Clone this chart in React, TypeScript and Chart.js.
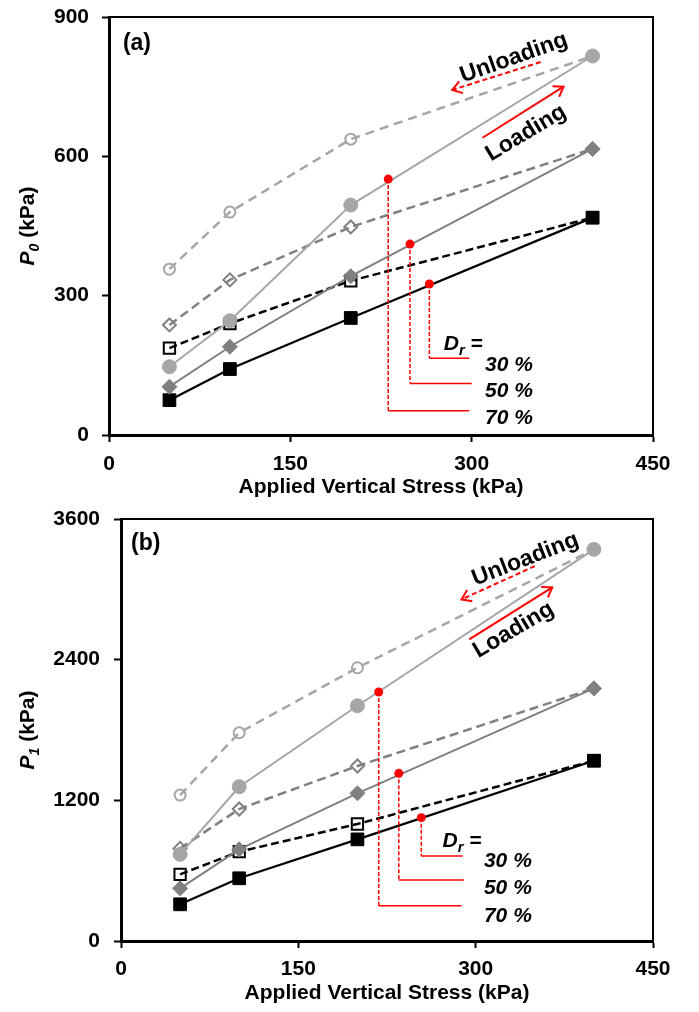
import React, { useEffect, useRef } from 'react';
import { Chart, registerables } from 'chart.js';

Chart.register(...registerables);

const FONT = "'Liberation Sans', Arial, Helvetica, sans-serif";

// ---------- shared ----------
const appliedStress = [50, 100, 200, 400];
const stressTicks = [0, 150, 300, 450];
const densityLabels = ['30 %', '50 %', '70 %'];

// ---------- panel (a): P0 ----------
const p0Ticks = [0, 300, 600, 900];
const p0Loading30 = [75, 142, 252, 468];
const p0Unloading30 = [187, 240, 332, 468];
const p0Loading50 = [104, 190, 342, 616];
const p0Unloading50 = [237, 334, 448, 616];
const p0Loading70 = [147, 246, 495, 816];
const p0Unloading70 = [357, 480, 637, 816];
// red markers (30 %, 50 %, 70 %) and their leader lines
const p0MarkStress = [265, 249, 231];
const p0MarkValue = [325, 411, 551];
const p0LeaderValue = [165, 111, 52];
const p0LeaderEndStress = [298, 300, 298];

// ---------- panel (b): P1 ----------
const p1Ticks = [0, 1200, 2400, 3600];
const p1Loading30 = [313, 535, 867, 1538];
const p1Unloading30 = [569, 762, 998, 1538];
const p1Loading50 = [449, 782, 1260, 2155];
const p1Unloading50 = [790, 1126, 1493, 2155];
const p1Loading70 = [739, 1316, 2007, 3341];
const p1Unloading70 = [1245, 1777, 2331, 3341];
const p1MarkStress = [254, 235, 218];
const p1MarkValue = [1052, 1430, 2124];
const p1LeaderValue = [725, 520, 301];
const p1LeaderEndStress = [289, 290, 288];

// ---------- annotation placement (data coordinates) ----------
const annotA = {
  panel: '(a)', sub: '0', yMax: 900, padTop: 17, axisWidth: 109, tickPad: 13, labelPad: 10,
  panelPos: [11.5, 842],
  unloadText: [335, 812, 19.5], loadText: [345, 650, 31],
  unloadArrow: [357, 803, 284, 743], loadArrow: [309, 640, 376, 750],
  drPos: [277, 200], pctX: 311, pctY: [155, 98, 39],
};
const annotB = {
  panel: '(b)', sub: '1', yMax: 3600, padTop: 13, axisWidth: 121, tickPad: 14, labelPad: 9,
  panelPos: [8.5, 3386],
  unloadText: [342, 3255, 21.2], loadText: [332, 2652, 30.5],
  unloadArrow: [350, 3198, 288, 2914], loadArrow: [294.6, 2573, 364.8, 3017],
  drPos: [272, 866], pctX: 307, pctY: [695, 469, 230],
};

const pts = (xs: number[], ys: number[]) => xs.map((x, i) => ({ x, y: ys[i] }));

function buildDatasets(
  l30: number[], u30: number[], l50: number[], u50: number[], l70: number[], u70: number[],
  mx: number[], my: number[], ly: number[], lx: number[]
) {
  const red = '#FF0000';
  const ds: any[] = [];
  ds.push({
    data: pts(mx, my), showLine: false, pointRadius: 4.5, pointStyle: 'circle',
    pointBackgroundColor: red, pointBorderColor: red, pointBorderWidth: 0,
  });
  mx.forEach((x, i) => {
    ds.push({
      data: [{ x, y: my[i] }, { x, y: ly[i] }], showLine: true, pointRadius: 0,
      borderColor: red, borderWidth: 1.5, borderDash: [4, 2],
    });
    ds.push({
      data: [{ x, y: ly[i] }, { x: lx[i], y: ly[i] }], showLine: true, pointRadius: 0,
      borderColor: red, borderWidth: 1.5,
    });
  });
  const light = '#A6A6A6', mid = '#808080', dark = '#000000';
  ds.push({
    data: pts(appliedStress, l70), showLine: true, borderColor: light, borderWidth: 2,
    pointStyle: 'circle', pointRadius: 7, pointBackgroundColor: light, pointBorderColor: light, pointBorderWidth: 1,
  });
  ds.push({
    data: pts(appliedStress, l50), showLine: true, borderColor: mid, borderWidth: 2,
    pointStyle: 'rectRot', pointRadius: 7.5, pointBackgroundColor: mid, pointBorderColor: mid, pointBorderWidth: 1,
  });
  ds.push({
    data: pts(appliedStress, l30), showLine: true, borderColor: dark, borderWidth: 2.25,
    pointStyle: 'rect', pointRadius: 9, pointBackgroundColor: dark, pointBorderColor: dark, pointBorderWidth: 1,
  });
  ds.push({
    data: pts(appliedStress, u70), showLine: true, borderColor: light, borderWidth: 2.5, borderDash: [9, 6],
    pointStyle: 'circle', pointRadius: 5.5, pointBackgroundColor: 'rgba(0,0,0,0)', pointBorderColor: light, pointBorderWidth: 2,
  });
  ds.push({
    data: pts(appliedStress, u50), showLine: true, borderColor: mid, borderWidth: 2.5, borderDash: [9, 5],
    pointStyle: 'rectRot', pointRadius: 6.5, pointBackgroundColor: 'rgba(0,0,0,0)', pointBorderColor: mid, pointBorderWidth: 2,
  });
  ds.push({
    data: pts(appliedStress, u30), showLine: true, borderColor: dark, borderWidth: 2.5, borderDash: [8, 4],
    pointStyle: 'rect', pointRadius: 8, pointBackgroundColor: 'rgba(0,0,0,0)', pointBorderColor: dark, pointBorderWidth: 2,
  });
  return ds;
}

type Seg = { text: string; font: string; dy?: number };
function drawRich(ctx: CanvasRenderingContext2D, segs: Seg[], x: number, y: number, center: boolean) {
  let total = 0;
  const widths = segs.map((s) => {
    ctx.font = s.font;
    const w = ctx.measureText(s.text).width;
    total += w;
    return w;
  });
  let cx = center ? x - total / 2 : x;
  ctx.textAlign = 'left';
  ctx.textBaseline = 'alphabetic';
  segs.forEach((s, i) => {
    ctx.font = s.font;
    ctx.fillText(s.text, cx, y + (s.dy || 0));
    cx += widths[i];
  });
}

function drawArrow(ctx: CanvasRenderingContext2D, x1: number, y1: number, x2: number, y2: number, dashed: boolean) {
  ctx.save();
  ctx.strokeStyle = '#FF0000';
  ctx.lineWidth = 2;
  ctx.setLineDash(dashed ? [5, 3] : []);
  ctx.beginPath();
  ctx.moveTo(x1, y1);
  ctx.lineTo(x2, y2);
  ctx.stroke();
  ctx.setLineDash([]);
  const ang = Math.atan2(y2 - y1, x2 - x1);
  const L = 11, A = 0.6;
  ctx.beginPath();
  ctx.moveTo(x2 - L * Math.cos(ang - A), y2 - L * Math.sin(ang - A));
  ctx.lineTo(x2, y2);
  ctx.lineTo(x2 - L * Math.cos(ang + A), y2 - L * Math.sin(ang + A));
  ctx.stroke();
  ctx.restore();
}

function decorPlugin(an: any) {
  return {
    id: 'decor',
    afterDraw(chart: any) {
      const { ctx, chartArea: ca, scales } = chart;
      const xs = scales.x, ys = scales.y;
      const px = (v: number) => xs.getPixelForValue(v);
      const py = (v: number) => ys.getPixelForValue(v);
      ctx.save();
      // top and right frame
      ctx.strokeStyle = '#000';
      ctx.lineWidth = 2;
      ctx.beginPath();
      ctx.moveTo(ca.left, ca.top);
      ctx.lineTo(ca.right, ca.top);
      ctx.lineTo(ca.right, ca.bottom);
      ctx.stroke();

      ctx.fillStyle = '#000';
      // panel label
      ctx.font = `bold 23px ${FONT}`;
      ctx.textAlign = 'left';
      ctx.textBaseline = 'middle';
      ctx.fillText(an.panel, px(an.panelPos[0]), py(an.panelPos[1]));

      // rotated Unloading / Loading
      const rot = (txt: string, spec: number[]) => {
        ctx.save();
        ctx.translate(px(spec[0]), py(spec[1]));
        ctx.rotate((-spec[2] * Math.PI) / 180);
        ctx.font = `bold 23px ${FONT}`;
        ctx.textAlign = 'center';
        ctx.textBaseline = 'middle';
        ctx.fillText(txt, 0, 0);
        ctx.restore();
      };
      rot('Unloading', an.unloadText);
      rot('Loading', an.loadText);
      const ua = an.unloadArrow, la = an.loadArrow;
      drawArrow(ctx, px(ua[0]), py(ua[1]), px(ua[2]), py(ua[3]), true);
      drawArrow(ctx, px(la[0]), py(la[1]), px(la[2]), py(la[3]), false);

      // D_r = and density labels
      const bi = `bold italic 21px ${FONT}`;
      ctx.fillStyle = '#000';
      drawRich(ctx, [
        { text: 'D', font: bi },
        { text: 'r', font: `bold italic 15px ${FONT}`, dy: 5 },
        { text: ' =', font: `bold 21px ${FONT}` },
      ], px(an.drPos[0]), py(an.drPos[1]) + 7.5, false);
      densityLabels.forEach((t, i) => {
        drawRich(ctx, [{ text: t, font: bi }], px(an.pctX), py(an.pctY[i]) + 7.5, false);
      });

      // y-axis title
      ctx.save();
      ctx.translate(26, (ca.top + ca.bottom) / 2);
      ctx.rotate(-Math.PI / 2);
      drawRich(ctx, [
        { text: 'P', font: bi },
        { text: an.sub, font: `bold italic 14px ${FONT}`, dy: 5 },
        { text: ' (kPa)', font: `bold 21px ${FONT}` },
      ], 0, 7.5, true);
      ctx.restore();
      ctx.restore();
    },
  };
}

function makeConfig(an: any, yTicks: number[], datasets: any[]): any {
  const tickFont = { family: FONT, size: 21, weight: 'bold' as const };
  return {
    type: 'scatter',
    data: { datasets },
    options: {
      animation: false,
      responsive: false,
      events: [],
      layout: { padding: { top: an.padTop, right: 46, bottom: 0, left: 0 } },
      plugins: { legend: { display: false }, tooltip: { enabled: false } },
      scales: {
        x: {
          type: 'linear', min: 0, max: 450,
          afterBuildTicks: (s: any) => { s.ticks = stressTicks.map((v) => ({ value: v })); },
          afterFit: (s: any) => { s.height = 71; s.paddingLeft = 0; s.paddingRight = 0; },
          ticks: { color: '#000', font: tickFont, padding: an.labelPad, maxRotation: 0, callback: (v: any) => String(v) },
          grid: { drawOnChartArea: false, color: '#000', tickLength: 7, tickWidth: 2 },
          border: { color: '#000', width: 3 },
          title: {
            display: true, text: 'Applied Vertical Stress (kPa)', color: '#000',
            font: { family: FONT, size: 21, weight: 'bold' }, padding: { top: 0, bottom: 6 },
          },
        },
        y: {
          type: 'linear', min: 0, max: an.yMax,
          afterBuildTicks: (s: any) => { s.ticks = yTicks.map((v) => ({ value: v })); },
          afterFit: (s: any) => { s.width = an.axisWidth; s.paddingTop = 0; s.paddingBottom = 0; },
          ticks: { color: '#000', font: tickFont, padding: an.tickPad, callback: (v: any) => String(v) },
          grid: { drawOnChartArea: false, color: '#000', tickLength: 7, tickWidth: 2 },
          border: { color: '#000', width: 3 },
        },
      },
    },
    plugins: [decorPlugin(an)],
  };
}

export default function App() {
  const refA = useRef<HTMLCanvasElement>(null);
  const refB = useRef<HTMLCanvasElement>(null);
  useEffect(() => {
    Chart.defaults.font.family = FONT;
    const dsA = buildDatasets(p0Loading30, p0Unloading30, p0Loading50, p0Unloading50, p0Loading70, p0Unloading70,
      p0MarkStress, p0MarkValue, p0LeaderValue, p0LeaderEndStress);
    const dsB = buildDatasets(p1Loading30, p1Unloading30, p1Loading50, p1Unloading50, p1Loading70, p1Unloading70,
      p1MarkStress, p1MarkValue, p1LeaderValue, p1LeaderEndStress);
    const a = new Chart(refA.current!, makeConfig(annotA, p0Ticks, dsA));
    const b = new Chart(refB.current!, makeConfig(annotB, p1Ticks, dsB));
    return () => { a.destroy(); b.destroy(); };
  }, []);
  return (
    <div style={{ position: 'absolute', left: 0, top: 0, width: 699, height: 1012, background: '#fff' }}>
      <canvas ref={refA} width={699} height={506} style={{ position: 'absolute', left: 0, top: 0, width: 699, height: 506 }} />
      <canvas ref={refB} width={699} height={506} style={{ position: 'absolute', left: 0, top: 506, width: 699, height: 506 }} />
    </div>
  );
}
